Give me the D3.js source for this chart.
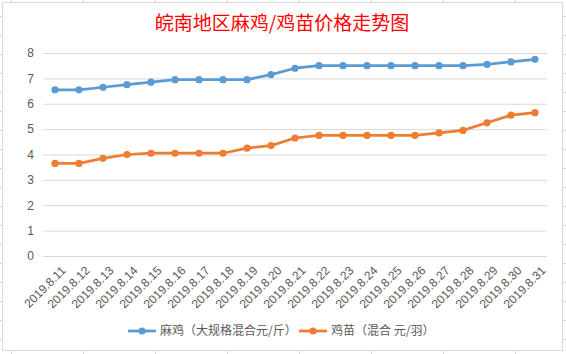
<!DOCTYPE html>
<html>
<head>
<meta charset="utf-8">
<script src="https://cdn.jsdelivr.net/npm/d3@7"></script>
<style>
  html, body { margin: 0; padding: 0; background: #fff; }
  svg { display: block; }
  text { font-family: "Noto Sans CJK SC", "DejaVu Sans", sans-serif; }
</style>
</head>
<body>
<div id="chart"></div>
<script>
const dates = ["2019.8.11", "2019.8.12", "2019.8.13", "2019.8.14", "2019.8.15", "2019.8.16", "2019.8.17",
  "2019.8.18", "2019.8.19", "2019.8.20", "2019.8.21", "2019.8.22", "2019.8.23", "2019.8.24",
  "2019.8.25", "2019.8.26", "2019.8.27", "2019.8.28", "2019.8.29", "2019.8.30", "2019.8.31"];

const majiPrice = [6.55, 6.55, 6.65, 6.75, 6.85, 6.95, 6.95, 6.95, 6.95, 7.15, 7.4,
  7.5, 7.5, 7.5, 7.5, 7.5, 7.5, 7.5, 7.55, 7.65, 7.75];

const chickPrice = [3.65, 3.65, 3.85, 4.0, 4.05, 4.05, 4.05, 4.05, 4.25, 4.35, 4.65,
  4.75, 4.75, 4.75, 4.75, 4.75, 4.85, 4.95, 5.25, 5.55, 5.65];

const yTicks = [0, 1, 2, 3, 4, 5, 6, 7, 8];

const series = [
  { name: "麻鸡（大规格混合元/斤）", values: majiPrice, color: "#5B9BD5" },
  { name: "鸡苗（混合 元/羽）", values: chickPrice, color: "#ED7D31" }
];

const W = 566, H = 354;
const svg = d3.select("#chart").append("svg")
  .attr("width", W)
  .attr("height", H);

// spreadsheet cells behind the chart
const bg = svg.append("g").attr("stroke", "#d4d4d4").attr("stroke-width", 1);
d3.range(11, W, 72).forEach((x) => {
  bg.append("line").attr("x1", x + 0.5).attr("x2", x + 0.5).attr("y1", 0).attr("y2", H);
});
d3.range(-3, H, 19).forEach((y) => {
  bg.append("line").attr("x1", 0).attr("x2", W).attr("y1", y + 0.5).attr("y2", y + 0.5);
});

svg.append("rect")
  .attr("x", 2.5).attr("y", 2.5)
  .attr("width", 560).attr("height", 348)
  .attr("fill", "#fff")
  .attr("stroke", "#d9d9d9");

const plot = { left: 43, right: 547, top: 53, bottom: 256 };

const x = d3.scaleBand()
  .domain(dates)
  .range([plot.left, plot.right]);

const y = d3.scaleLinear()
  .domain([0, 8])
  .range([plot.bottom, plot.top]);

svg.append("text")
  .attr("x", 282)
  .attr("y", 30)
  .attr("text-anchor", "middle")
  .attr("fill", "#ff0000")
  .style("font-size", "19px")
  .text("皖南地区麻鸡/鸡苗价格走势图");

// gridlines + y labels
const yAxis = svg.append("g")
  .attr("transform", `translate(${plot.left},0)`)
  .call(d3.axisLeft(y).tickValues(yTicks).tickSize(-(plot.right - plot.left)).tickPadding(9));
yAxis.select(".domain").remove();
yAxis.selectAll(".tick line").attr("stroke", "#d9d9d9");
yAxis.selectAll(".tick text")
  .attr("fill", "#595959")
  .style("font-size", "12px")
  .style("font-family", "Liberation Sans, sans-serif");

// x labels
svg.append("g")
  .selectAll("text")
  .data(dates)
  .join("text")
  .attr("transform", (d) => `translate(${x(d) + x.bandwidth() / 2 + 5},${plot.bottom + 9}) rotate(-45)`)
  .attr("text-anchor", "end")
  .attr("dy", "0.75em")
  .attr("fill", "#595959")
  .style("font-size", "12px")
  .style("font-family", "Liberation Sans, sans-serif")
  .text((d) => d);

const cx = (i) => x(dates[i]) + x.bandwidth() / 2;

const line = d3.line()
  .x((d, i) => cx(i))
  .y((d) => y(d));

series.forEach((s) => {
  svg.append("path")
    .datum(s.values)
    .attr("d", line)
    .attr("fill", "none")
    .attr("stroke", s.color)
    .attr("stroke-width", 2.75)
    .attr("stroke-linejoin", "round");

  svg.append("g")
    .selectAll("circle")
    .data(s.values)
    .join("circle")
    .attr("cx", (d, i) => cx(i))
    .attr("cy", (d) => y(d))
    .attr("r", 3.6)
    .attr("fill", s.color);
});

// legend
const legendItems = [
  { x: 128, textX: 160 },
  { x: 299, textX: 331 }
];
series.forEach((s, i) => {
  const g = svg.append("g").attr("transform", `translate(${legendItems[i].x},331)`);
  g.append("line")
    .attr("x1", 0).attr("x2", 28)
    .attr("stroke", s.color)
    .attr("stroke-width", 2.75);
  g.append("circle")
    .attr("cx", 14).attr("r", 3.6)
    .attr("fill", s.color);
  svg.append("text")
    .attr("x", legendItems[i].textX)
    .attr("y", 331)
    .attr("dy", "0.36em")
    .attr("fill", "#595959")
    .style("font-size", "12px")
    .text(s.name);
});
</script>
</body>
</html>
